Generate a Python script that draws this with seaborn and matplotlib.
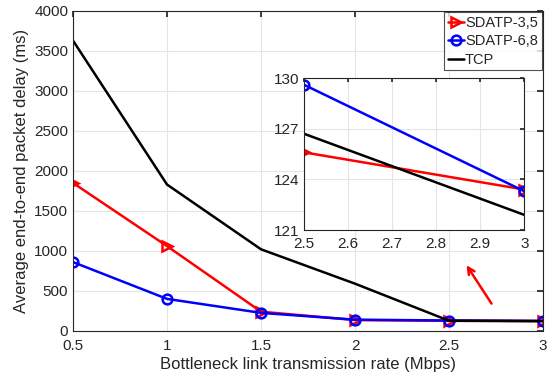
import matplotlib
matplotlib.use("Agg")
import matplotlib.pyplot as plt
import seaborn as sns
import pandas as pd

rate = [0.5, 1, 1.5, 2, 2.5, 3]
sdatp35 = [1850, 1060, 240, 135, 125.6, 123.4]
sdatp68 = [860, 400, 225, 140, 129.6, 123.3]
tcp = [3630, 1830, 1020, 590, 126.7, 121.9]
names = ["SDATP-3,5", "SDATP-6,8", "TCP"]

df = pd.DataFrame({"rate": rate * 3,
                   "delay": sdatp35 + sdatp68 + tcp,
                   "proto": [n for n in names for _ in rate]})
zoom = df[df["rate"] >= 2.5]

sns.set_theme(style="whitegrid")
plt.rcParams["font.family"] = ["Liberation Sans", "DejaVu Sans"]
plt.rcParams["xtick.direction"] = "in"
plt.rcParams["ytick.direction"] = "in"

colors = {"SDATP-3,5": "#ff0000", "SDATP-6,8": "#0000ff", "TCP": "#000000"}
markers = {"SDATP-3,5": ">", "SDATP-6,8": "o", "TCP": ""}

def draw(ax, data, legend):
    for n in names:
        d = data[data["proto"] == n]
        sns.lineplot(x="rate", y="delay", data=d, ax=ax, color=colors[n],
                     marker=markers[n] if markers[n] else None,
                     markerfacecolor="none", markeredgecolor=colors[n],
                     markeredgewidth=1.8, markersize=7, linewidth=1.8,
                     label=n if legend else None)

fig = plt.figure(figsize=(5.53, 3.79), dpi=100)
ax = fig.add_axes([0.132, 0.127, 0.85, 0.844])
draw(ax, df, True)
ax.set_xlim(0.5, 3)
ax.set_ylim(0, 4000)
ax.set_xticks([0.5, 1, 1.5, 2, 2.5, 3])
ax.set_xticklabels(["0.5", "1", "1.5", "2", "2.5", "3"])
ax.set_yticks(range(0, 4001, 500))
ax.set_xlabel("Bottleneck link transmission rate (Mbps)", fontsize=12, color="#262626", labelpad=3)
ax.set_ylabel("Average end-to-end packet delay (ms)", fontsize=12, color="#262626", labelpad=4)
ax.tick_params(labelsize=11, colors="#262626", length=4, top=True, right=True)
ax.tick_params(axis="x", pad=6)
ax.grid(color="#e5e5e5", linewidth=0.8)
for s in ax.spines.values():
    s.set_color("#262626")
    s.set_linewidth(0.8)
leg = ax.legend(loc="upper right", fontsize=10.5, frameon=True, fancybox=False,
                borderpad=0.25, handlelength=1.1, handletextpad=0.1,
                labelspacing=0.3, borderaxespad=0.1)
leg.get_frame().set_edgecolor("#262626")
leg.get_frame().set_linewidth(0.8)

ax.annotate("", xy=(2.585, 850), xytext=(2.734, 312),
            arrowprops=dict(arrowstyle="->", color="#ff0000", lw=1.8))

ins = fig.add_axes([0.55, 0.393, 0.398, 0.401])
ins.set_facecolor("white")
draw(ins, zoom, False)
ins.set_xlim(2.5, 3)
ins.set_ylim(121, 130)
ins.set_xticks([2.5, 2.6, 2.7, 2.8, 2.9, 3])
ins.set_xticklabels(["2.5", "2.6", "2.7", "2.8", "2.9", "3"])
ins.set_yticks([121, 124, 127, 130])
ins.set_xlabel("")
ins.set_ylabel("")
ins.tick_params(labelsize=11, colors="#262626", length=3, top=True, right=True)
ins.tick_params(axis="x", pad=5)
ins.grid(color="#e5e5e5", linewidth=0.8)
for s in ins.spines.values():
    s.set_color("#262626")
    s.set_linewidth(0.8)

fig.savefig("out.png", dpi=100)
